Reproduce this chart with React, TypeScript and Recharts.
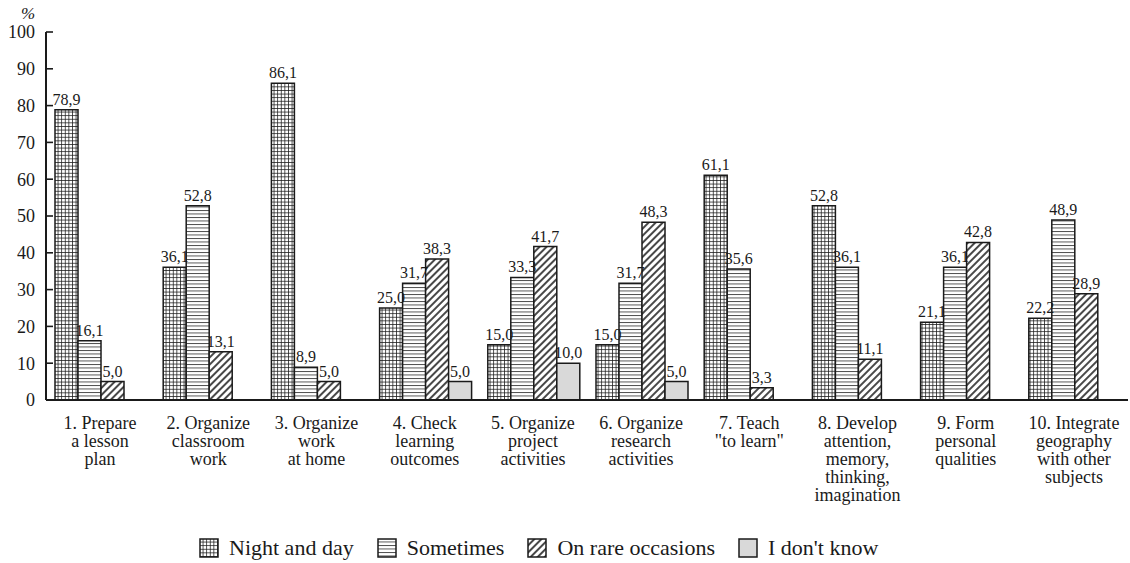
import React from 'react';
import { BarChart, Bar, XAxis, YAxis, LabelList, Legend } from 'recharts';

const categories: string[][] = [
  ['1. Prepare', 'a lesson', 'plan'],
  ['2. Organize', 'classroom', 'work'],
  ['3. Organize', 'work', 'at home'],
  ['4. Check', 'learning', 'outcomes'],
  ['5. Organize', 'project', 'activities'],
  ['6. Organize', 'research', 'activities'],
  ['7. Teach', '"to learn"'],
  ['8. Develop', 'attention,', 'memory,', 'thinking,', 'imagination'],
  ['9. Form', 'personal', 'qualities'],
  ['10. Integrate', 'geography', 'with other', 'subjects'],
];
const nightAndDay = [78.9, 36.1, 86.1, 25.0, 15.0, 15.0, 61.1, 52.8, 21.1, 22.2];
const sometimes = [16.1, 52.8, 8.9, 31.7, 33.3, 31.7, 35.6, 36.1, 36.1, 48.9];
const rareOccasions = [5.0, 13.1, 5.0, 38.3, 41.7, 48.3, 3.3, 11.1, 42.8, 28.9];
const dontKnow: (number | null)[] = [null, null, null, 5.0, 10.0, 5.0, null, null, null, null];
const yTicks = [0, 10, 20, 30, 40, 50, 60, 70, 80, 90, 100];
const seriesNames = ['Night and day', 'Sometimes', 'On rare occasions', "I don't know"];

const data = categories.map((c, i) => ({
  name: c.join('\n'),
  a: nightAndDay[i],
  b: sometimes[i],
  c: rareOccasions[i],
  d: dontKnow[i],
}));

const FONT = 'Liberation Serif';
const INK = '#1a1a1a';
const fills = ['url(#patGrid)', 'url(#patHoriz)', 'url(#patDiag)', '#d9d9d9'];
const keys = ['a', 'b', 'c', 'd'];

const fmt = (v: any) => (v === null || v === undefined ? '' : Number(v).toFixed(1).replace('.', ','));

const XTick = (props: any) => {
  const { x, y, payload } = props;
  const lines = String(payload.value).split('\n');
  return (
    <text x={x} y={y + 29} textAnchor="middle" style={{ fontFamily: FONT, fontSize: 18 }} fill={INK}>
      {lines.map((l, i) => (
        <tspan key={i} x={x} dy={i === 0 ? 0 : 18}>
          {l}
        </tspan>
      ))}
    </text>
  );
};

const YTick = (props: any) => {
  const { x, y, payload } = props;
  return (
    <g>
      {payload.value !== 0 && (
        <line x1={x} x2={x + 7} y1={y} y2={y} stroke={INK} strokeWidth={1.6} />
      )}
      <text x={x - 11} y={y} dy="0.35em" textAnchor="end" style={{ fontFamily: FONT, fontSize: 18 }} fill={INK}>
        {payload.value}
      </text>
    </g>
  );
};

const LegendContent = () => (
  <div
    style={{
      display: 'flex',
      alignItems: 'center',
      height: 30,
      paddingLeft: 199,
      fontFamily: FONT,
      fontSize: 22,
      color: INK,
    }}
  >
    {seriesNames.map((n, i) => (
      <div key={n} style={{ display: 'flex', alignItems: 'center', marginRight: 23 }}>
        <svg width={20} height={20} style={{ marginRight: 10 }}>
          <rect x={1} y={1} width={18} height={18} fill={fills[i]} stroke={INK} strokeWidth={1.5} />
        </svg>
        <span>{n}</span>
      </div>
    ))}
  </div>
);

export default function App() {
  return (
    <div style={{ position: 'absolute', left: 0, top: 0, background: '#fff', fontFamily: FONT }}>
      <BarChart
        width={1130}
        height={563}
        data={data}
        margin={{ top: 32, right: 2, bottom: 0, left: 0 }}
        barCategoryGap={9}
        barGap={0}
      >
        <defs>
          <pattern id="patGrid" patternUnits="userSpaceOnUse" width={3.6} height={3.6}>
            <rect width={3.6} height={3.6} fill="#fff" />
            <path d="M0 0.4 H3.6 M0.4 0 V3.6" stroke={INK} strokeWidth={0.8} />
          </pattern>
          <pattern id="patHoriz" patternUnits="userSpaceOnUse" width={4} height={3.5}>
            <rect width={4} height={3.5} fill="#fff" />
            <path d="M0 0.5 H4" stroke={INK} strokeWidth={0.8} />
          </pattern>
          <pattern
            id="patDiag"
            patternUnits="userSpaceOnUse"
            width={5}
            height={5}
            patternTransform="rotate(45)"
          >
            <rect width={5} height={5} fill="#fff" />
            <path d="M1 0 V5" stroke={INK} strokeWidth={1.6} />
          </pattern>
        </defs>
        <XAxis
          dataKey="name"
          height={133}
          interval={0}
          tickLine={false}
          tickSize={0}
          tickMargin={0}
          axisLine={{ stroke: INK, strokeWidth: 2 }}
          tick={<XTick />}
        />
        <YAxis
          type="number"
          domain={[0, 100]}
          ticks={yTicks}
          width={46}
          tickLine={false}
          tickSize={0}
          tickMargin={0}
          axisLine={{ stroke: INK, strokeWidth: 2 }}
          tick={<YTick />}
          label={{
            content: () => (
              <text
                x={28}
                y={19}
                textAnchor="middle"
                style={{ fontFamily: FONT, fontSize: 17, fontStyle: 'italic' }}
                fill={INK}
              >
                %
              </text>
            ),
          }}
        />
        <Legend verticalAlign="bottom" content={<LegendContent />} />
        {keys.map((k, i) => (
          <Bar
            key={k}
            dataKey={k}
            name={seriesNames[i]}
            fill={fills[i]}
            stroke={INK}
            strokeWidth={1.5}
            isAnimationActive={false}
          >
            <LabelList
              dataKey={k}
              position="top"
              offset={5}
              formatter={fmt}
              style={{ fontFamily: FONT, fontSize: 16, fill: INK }}
            />
          </Bar>
        ))}
      </BarChart>
    </div>
  );
}
